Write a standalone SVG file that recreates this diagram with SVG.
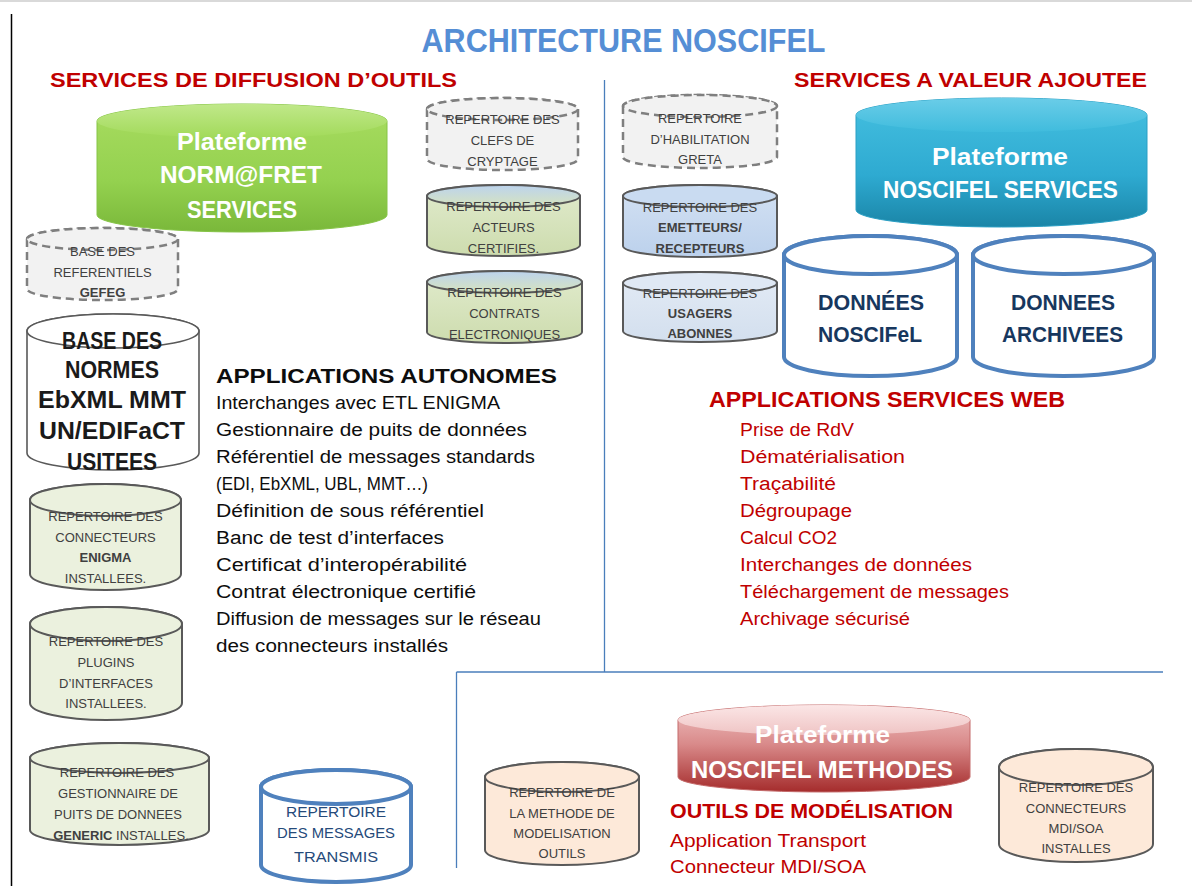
<svg xmlns="http://www.w3.org/2000/svg" width="1192" height="886" viewBox="0 0 1192 886">
  <style>
    text { font-family: 'Liberation Sans', Arial, sans-serif; }
    .lbl { font-size: 13px; fill: #404040; text-anchor: middle; }
    .b { font-weight: bold; }
    .big { font-size: 24px; font-weight: bold; fill: #1a1a1a; text-anchor: middle; }
    .data { font-size: 22px; font-weight: bold; fill: #17375e; text-anchor: middle; }
    .msg { font-size: 15px; fill: #254a7a; text-anchor: middle; }
    .plat { font-size: 23px; font-weight: bold; fill: #ffffff; text-anchor: middle; }
    .head { font-size: 21px; font-weight: bold; fill: #c00000; }
    .item { font-size: 18px; fill: #0d0d0d; }
    .ritem { font-size: 18px; fill: #c00000; }
    .dash { fill: #f2f2f2; stroke: #7f7f7f; stroke-width: 2.5; stroke-dasharray: 8 5; }
    .olive { fill: #ebf1de; stroke: #595959; stroke-width: 2; }
    .peach { fill: #fde9d9; stroke: #595959; stroke-width: 2; }
    .plain { fill: #ffffff; stroke: #595959; stroke-width: 1.6; }
    .bluecyl { fill: #ffffff; stroke: #4f81bd; stroke-width: 4; }
    .divider { stroke: #4a7ebb; stroke-width: 1.3; fill: none; }
  </style>
  <defs>
    <linearGradient id="gSmallGreenBody" x1="0" y1="0" x2="0" y2="1">
      <stop offset="0" stop-color="#e1ebcd"/>
      <stop offset="1" stop-color="#cddcae"/>
    </linearGradient>
    <linearGradient id="gSmallGreenTop" x1="0" y1="0" x2="0" y2="1">
      <stop offset="0" stop-color="#bcd3ee"/>
      <stop offset="1" stop-color="#d7e4bd"/>
    </linearGradient>
    <linearGradient id="gBlueBody" x1="0" y1="0" x2="0" y2="1">
      <stop offset="0" stop-color="#d3e1f3"/>
      <stop offset="1" stop-color="#bcd1ec"/>
    </linearGradient>
    <linearGradient id="gPaleBlueBody" x1="0" y1="0" x2="0" y2="1">
      <stop offset="0" stop-color="#e3ebf5"/>
      <stop offset="1" stop-color="#d3dfee"/>
    </linearGradient>
    <linearGradient id="gGreenBody" x1="0" y1="0" x2="0" y2="1">
      <stop offset="0" stop-color="#a8dc60"/>
      <stop offset="0.6" stop-color="#94d14f"/>
      <stop offset="1" stop-color="#7ab83a"/>
    </linearGradient>
    <linearGradient id="gGreenTop" x1="0" y1="0" x2="0" y2="1">
      <stop offset="0" stop-color="#c0e88a"/>
      <stop offset="1" stop-color="#a2da5a"/>
    </linearGradient>
    <linearGradient id="gTealBody" x1="0" y1="0" x2="0" y2="1">
      <stop offset="0" stop-color="#45c0e0"/>
      <stop offset="0.6" stop-color="#2eaad1"/>
      <stop offset="1" stop-color="#1a85a7"/>
    </linearGradient>
    <linearGradient id="gTealTop" x1="0" y1="0" x2="0" y2="1">
      <stop offset="0" stop-color="#6acde8"/>
      <stop offset="1" stop-color="#40bcdd"/>
    </linearGradient>
    <linearGradient id="gRedBody" x1="0" y1="0" x2="0" y2="1">
      <stop offset="0" stop-color="#eec0c0"/>
      <stop offset="0.45" stop-color="#d98a8a"/>
      <stop offset="1" stop-color="#a52c2c"/>
    </linearGradient>
    <linearGradient id="gRedTop" x1="0" y1="0" x2="0" y2="1">
      <stop offset="0" stop-color="#fbe6e6"/>
      <stop offset="1" stop-color="#efc4c4"/>
    </linearGradient>
  </defs>

  <!-- page frame -->
  <line x1="0" y1="1" x2="1192" y2="1" stroke="#d9d9d9" stroke-width="2"/>
  <line x1="11.5" y1="14" x2="11.5" y2="886" stroke="#000000" stroke-width="1.5"/>

  <!-- section dividers -->
  <g id="dividers">
    <line class="divider" x1="604.5" y1="80" x2="604.5" y2="672"/>
    <line class="divider" x1="456.5" y1="672" x2="1163" y2="672"/>
    <line class="divider" x1="456.5" y1="672" x2="456.5" y2="868"/>
  </g>

  <!-- headings -->
  <text x="623.5" y="52" text-anchor="middle" font-size="34" font-weight="bold" fill="#558ed5" textLength="404" lengthAdjust="spacingAndGlyphs">ARCHITECTURE NOSCIFEL</text>
  <text class="head" x="50" y="87" textLength="407" lengthAdjust="spacingAndGlyphs">SERVICES DE DIFFUSION D’OUTILS</text>
  <text class="head" x="794" y="87" textLength="353" lengthAdjust="spacingAndGlyphs">SERVICES A VALEUR AJOUTEE</text>

  <!-- platform: NORM@FRET -->
  <g id="plateforme-normfret">
    <path d="M97 121 V215 A145 17 0 0 0 387 215 V121 A145 17 0 0 0 97 121 Z" fill="url(#gGreenBody)" stroke="#86c447" stroke-width="1"/>
    <ellipse cx="242" cy="121" rx="145" ry="17" fill="url(#gGreenTop)"/>
    <text class="plat" x="242" y="150" textLength="130" lengthAdjust="spacingAndGlyphs">Plateforme</text>
    <text class="plat" x="241" y="183" textLength="162" lengthAdjust="spacingAndGlyphs">NORM@FRET</text>
    <text class="plat" x="242" y="218" textLength="110" lengthAdjust="spacingAndGlyphs">SERVICES</text>
  </g>

  <!-- left column repositories -->
  <g id="base-referentiels-gefeg">
    <path class="dash" d="M27 239 V289 A75.5 11 0 0 0 178 289 V239 A75.5 11 0 0 0 27 239 Z"/>
    <ellipse class="dash" cx="102.5" cy="239" rx="75.5" ry="11"/>
    <text class="lbl" x="102.5" y="256">BASE DES</text>
    <text class="lbl" x="102.5" y="277">REFERENTIELS</text>
    <text class="lbl b" x="102.5" y="297">GEFEG</text>
  </g>

  <g id="base-normes">
    <path class="plain" d="M27 331 V453 A86 17 0 0 0 199 453 V331 A86 17 0 0 0 27 331 Z"/>
    <ellipse class="plain" cx="113" cy="331" rx="86" ry="17"/>
    <text class="big" x="112" y="349" textLength="100" lengthAdjust="spacingAndGlyphs">BASE DES</text>
    <text class="big" x="112" y="378" textLength="94" lengthAdjust="spacingAndGlyphs">NORMES</text>
    <text class="big" x="112" y="408" textLength="148" lengthAdjust="spacingAndGlyphs">EbXML MMT</text>
    <text class="big" x="112" y="439" textLength="146" lengthAdjust="spacingAndGlyphs">UN/EDIFaCT</text>
    <text class="big" x="112" y="470" textLength="90" lengthAdjust="spacingAndGlyphs">USITEES</text>
  </g>

  <g id="repertoire-connecteurs-enigma">
    <path class="olive" d="M30 500 V574 A75.5 16 0 0 0 181 574 V500 A75.5 16 0 0 0 30 500 Z"/>
    <ellipse class="olive" cx="105.5" cy="500" rx="75.5" ry="16"/>
    <text class="lbl" x="105.5" y="521">REPERTOIRE DES</text>
    <text class="lbl" x="105.5" y="542">CONNECTEURS</text>
    <text class="lbl b" x="105.5" y="562">ENIGMA</text>
    <text class="lbl" x="105.5" y="583">INSTALLEES.</text>
  </g>

  <g id="repertoire-plugins">
    <path class="olive" d="M30 624 V703 A76 17 0 0 0 182 703 V624 A76 17 0 0 0 30 624 Z" stroke="#3f3f3f" stroke-width="4"/>
    <ellipse class="olive" cx="106" cy="624" rx="76" ry="17" stroke="#3f3f3f" stroke-width="4"/>
    <text class="lbl" x="106" y="646">REPERTOIRE DES</text>
    <text class="lbl" x="106" y="667">PLUGINS</text>
    <text class="lbl" x="106" y="688">D’INTERFACES</text>
    <text class="lbl" x="106" y="708">INSTALLEES.</text>
  </g>

  <g id="repertoire-gestionnaire">
    <path class="olive" d="M30 758 V830 A89.5 15 0 0 0 209 830 V758 A89.5 15 0 0 0 30 758 Z"/>
    <ellipse class="olive" cx="119.5" cy="758" rx="89.5" ry="15"/>
    <text class="lbl" x="117" y="777">REPERTOIRE DES</text>
    <text class="lbl" x="118" y="798">GESTIONNAIRE DE</text>
    <text class="lbl" x="118" y="819">PUITS DE DONNEES</text>
    <text class="lbl" x="121" y="840"><tspan class="b">GENERIC</tspan> INSTALLES.</text>
  </g>

  <g id="repertoire-messages-transmis">
    <path class="bluecyl" d="M261 787 V865 A75 17 0 0 0 411 865 V787 A75 17 0 0 0 261 787 Z" stroke-width="3"/>
    <ellipse class="bluecyl" cx="336" cy="787" rx="75" ry="17" stroke-width="3"/>
    <text class="msg" x="336" y="817" textLength="100" lengthAdjust="spacingAndGlyphs">REPERTOIRE</text>
    <text class="msg" x="336" y="838" textLength="118" lengthAdjust="spacingAndGlyphs">DES MESSAGES</text>
    <text class="msg" x="336" y="862" textLength="84" lengthAdjust="spacingAndGlyphs">TRANSMIS</text>
  </g>

  <!-- repositories next to the NORM@FRET platform -->
  <g id="repertoire-clefs-cryptage">
    <path class="dash" d="M427 109 V159 A75.5 11 0 0 0 578 159 V109 A75.5 11 0 0 0 427 109 Z"/>
    <ellipse class="dash" cx="502.5" cy="109" rx="75.5" ry="11"/>
    <text class="lbl" x="502.5" y="124">REPERTOIRE DES</text>
    <text class="lbl" x="502.5" y="145">CLEFS DE</text>
    <text class="lbl" x="502.5" y="166">CRYPTAGE</text>
  </g>

  <g id="repertoire-acteurs-certifies">
    <path d="M427 196 V245 A76.5 11 0 0 0 580 245 V196 A76.5 11 0 0 0 427 196 Z" fill="url(#gSmallGreenBody)" stroke="#595959" stroke-width="2"/>
    <ellipse cx="503.5" cy="196" rx="76.5" ry="11" fill="url(#gSmallGreenTop)" stroke="#595959" stroke-width="2"/>
    <text class="lbl" x="503.5" y="211">REPERTOIRE DES</text>
    <text class="lbl" x="503.5" y="232">ACTEURS</text>
    <text class="lbl" x="503.5" y="253">CERTIFIES.</text>
  </g>

  <g id="repertoire-contrats-electroniques">
    <path d="M427 282 V332 A77.5 11 0 0 0 582 332 V282 A77.5 11 0 0 0 427 282 Z" fill="url(#gSmallGreenBody)" stroke="#595959" stroke-width="2"/>
    <ellipse cx="504.5" cy="282" rx="77.5" ry="11" fill="url(#gSmallGreenTop)" stroke="#595959" stroke-width="2"/>
    <text class="lbl" x="504.5" y="297">REPERTOIRE DES</text>
    <text class="lbl" x="504.5" y="318">CONTRATS</text>
    <text class="lbl" x="504.5" y="339">ELECTRONIQUES</text>
  </g>

  <!-- standalone applications -->
  <g id="applications-autonomes">
    <text x="216" y="383" font-size="21" font-weight="bold" fill="#0d0d0d" textLength="341" lengthAdjust="spacingAndGlyphs">APPLICATIONS AUTONOMES</text>
    <text class="item" x="216" y="409" textLength="284" lengthAdjust="spacingAndGlyphs">Interchanges avec ETL ENIGMA</text>
    <text class="item" x="216" y="436" textLength="311" lengthAdjust="spacingAndGlyphs">Gestionnaire de puits de données</text>
    <text class="item" x="216" y="463" textLength="319" lengthAdjust="spacingAndGlyphs">Référentiel de messages standards</text>
    <text class="item" x="216" y="490" textLength="212" lengthAdjust="spacingAndGlyphs">(EDI, EbXML, UBL, MMT…)</text>
    <text class="item" x="216" y="517" textLength="268" lengthAdjust="spacingAndGlyphs">Définition de sous référentiel</text>
    <text class="item" x="216" y="544" textLength="228" lengthAdjust="spacingAndGlyphs">Banc de test d’interfaces</text>
    <text class="item" x="216" y="571" textLength="251" lengthAdjust="spacingAndGlyphs">Certificat d’interopérabilité</text>
    <text class="item" x="216" y="598" textLength="260" lengthAdjust="spacingAndGlyphs">Contrat électronique certifié</text>
    <text class="item" x="216" y="625" textLength="325" lengthAdjust="spacingAndGlyphs">Diffusion de messages sur le réseau</text>
    <text class="item" x="216" y="652" textLength="232" lengthAdjust="spacingAndGlyphs">des connecteurs installés</text>
  </g>

  <!-- right half repositories -->
  <g id="repertoire-habilitation-greta">
    <path class="dash" d="M623 106 V157 A77 11 0 0 0 777 157 V106 A77 11 0 0 0 623 106 Z"/>
    <ellipse class="dash" cx="700" cy="106" rx="77" ry="11"/>
    <text class="lbl" x="700" y="123">REPERTOIRE</text>
    <text class="lbl" x="700" y="144">D’HABILITATION</text>
    <text class="lbl" x="700" y="164">GRETA</text>
  </g>

  <g id="repertoire-emetteurs-recepteurs">
    <path d="M623 196 V246 A77 11 0 0 0 777 246 V196 A77 11 0 0 0 623 196 Z" fill="url(#gBlueBody)" stroke="#595959" stroke-width="2"/>
    <ellipse cx="700" cy="196" rx="77" ry="11" fill="#c9dbf1" stroke="#595959" stroke-width="2"/>
    <text class="lbl" x="700" y="212">REPERTOIRE DES</text>
    <text class="lbl b" x="700" y="232">EMETTEURS/</text>
    <text class="lbl b" x="700" y="253">RECEPTEURS</text>
  </g>

  <g id="repertoire-usagers-abonnes">
    <path d="M623 283 V331 A77 11 0 0 0 777 331 V283 A77 11 0 0 0 623 283 Z" fill="url(#gPaleBlueBody)" stroke="#595959" stroke-width="2"/>
    <ellipse cx="700" cy="283" rx="77" ry="11" fill="#dfe8f4" stroke="#595959" stroke-width="2"/>
    <text class="lbl" x="700" y="298">REPERTOIRE DES</text>
    <text class="lbl b" x="700" y="318">USAGERS</text>
    <text class="lbl b" x="700" y="338">ABONNES</text>
  </g>

  <!-- platform: NOSCIFEL SERVICES -->
  <g id="plateforme-noscifel-services">
    <path d="M856 115 V210 A145.5 17 0 0 0 1147 210 V115 A145.5 17 0 0 0 856 115 Z" fill="url(#gTealBody)" stroke="#2a9fc4" stroke-width="1"/>
    <ellipse cx="1001.5" cy="115" rx="145.5" ry="17" fill="url(#gTealTop)"/>
    <text class="plat" x="1000" y="165" textLength="136" lengthAdjust="spacingAndGlyphs">Plateforme</text>
    <text class="plat" x="1000.5" y="198" textLength="235" lengthAdjust="spacingAndGlyphs">NOSCIFEL SERVICES</text>
  </g>

  <g id="donnees-noscifel">
    <path class="bluecyl" d="M784 255 V357 A86.5 19 0 0 0 957 357 V255 A86.5 19 0 0 0 784 255 Z"/>
    <ellipse class="bluecyl" cx="870.5" cy="255" rx="86.5" ry="19"/>
    <text class="data" x="871" y="310" textLength="106" lengthAdjust="spacingAndGlyphs">DONNÉES</text>
    <text class="data" x="870" y="342" textLength="104" lengthAdjust="spacingAndGlyphs">NOSCIFeL</text>
  </g>

  <g id="donnees-archivees">
    <path class="bluecyl" d="M973 255 V357 A90.5 19 0 0 0 1154 357 V255 A90.5 19 0 0 0 973 255 Z"/>
    <ellipse class="bluecyl" cx="1063.5" cy="255" rx="90.5" ry="19"/>
    <text class="data" x="1063" y="310" textLength="104" lengthAdjust="spacingAndGlyphs">DONNEES</text>
    <text class="data" x="1062.5" y="342" textLength="121" lengthAdjust="spacingAndGlyphs">ARCHIVEES</text>
  </g>

  <!-- web service applications -->
  <g id="applications-services-web">
    <text x="709" y="407" font-size="22" font-weight="bold" fill="#c00000" textLength="356" lengthAdjust="spacingAndGlyphs">APPLICATIONS SERVICES WEB</text>
    <text class="ritem" x="740" y="436" textLength="114" lengthAdjust="spacingAndGlyphs">Prise de RdV</text>
    <text class="ritem" x="740" y="463" textLength="165" lengthAdjust="spacingAndGlyphs">Dématérialisation</text>
    <text class="ritem" x="740" y="490" textLength="96" lengthAdjust="spacingAndGlyphs">Traçabilité</text>
    <text class="ritem" x="740" y="517" textLength="112" lengthAdjust="spacingAndGlyphs">Dégroupage</text>
    <text class="ritem" x="740" y="544" textLength="97" lengthAdjust="spacingAndGlyphs">Calcul CO2</text>
    <text class="ritem" x="740" y="571" textLength="232" lengthAdjust="spacingAndGlyphs">Interchanges de données</text>
    <text class="ritem" x="740" y="598" textLength="269" lengthAdjust="spacingAndGlyphs">Téléchargement de messages</text>
    <text class="ritem" x="740" y="625" textLength="170" lengthAdjust="spacingAndGlyphs">Archivage sécurisé</text>
  </g>

  <!-- method section -->
  <g id="repertoire-methode-modelisation">
    <path class="peach" d="M485 777 V850 A77 15 0 0 0 639 850 V777 A77 15 0 0 0 485 777 Z"/>
    <ellipse class="peach" cx="562" cy="777" rx="77" ry="15"/>
    <text class="lbl" x="562" y="797">REPERTOIRE DE</text>
    <text class="lbl" x="562" y="818">LA METHODE DE</text>
    <text class="lbl" x="562" y="838">MODELISATION</text>
    <text class="lbl" x="562" y="858">OUTILS</text>
  </g>

  <g id="plateforme-noscifel-methodes">
    <path d="M678 720 V777 A146 15 0 0 0 970 777 V720 A146 15 0 0 0 678 720 Z" fill="url(#gRedBody)" stroke="#c46a6a" stroke-width="1"/>
    <ellipse cx="824" cy="720" rx="146" ry="15" fill="url(#gRedTop)"/>
    <text class="plat" x="822.5" y="743" textLength="135" lengthAdjust="spacingAndGlyphs">Plateforme</text>
    <text class="plat" x="822" y="778" textLength="262" lengthAdjust="spacingAndGlyphs">NOSCIFEL METHODES</text>
  </g>

  <g id="outils-modelisation">
    <text x="670" y="818" font-size="21" font-weight="bold" fill="#c00000" textLength="283" lengthAdjust="spacingAndGlyphs">OUTILS DE MODÉLISATION</text>
    <text class="ritem" x="670" y="847" textLength="196" lengthAdjust="spacingAndGlyphs">Application Transport</text>
    <text class="ritem" x="670" y="873" textLength="196" lengthAdjust="spacingAndGlyphs">Connecteur MDI/SOA</text>
  </g>

  <g id="repertoire-connecteurs-mdi-soa">
    <path class="peach" d="M999 767 V844 A77 18 0 0 0 1153 844 V767 A77 18 0 0 0 999 767 Z"/>
    <ellipse class="peach" cx="1076" cy="767" rx="77" ry="18"/>
    <text class="lbl" x="1076" y="792">REPERTOIRE DES</text>
    <text class="lbl" x="1076" y="813">CONNECTEURS</text>
    <text class="lbl" x="1076" y="833">MDI/SOA</text>
    <text class="lbl" x="1076" y="853">INSTALLES</text>
  </g>
</svg>
